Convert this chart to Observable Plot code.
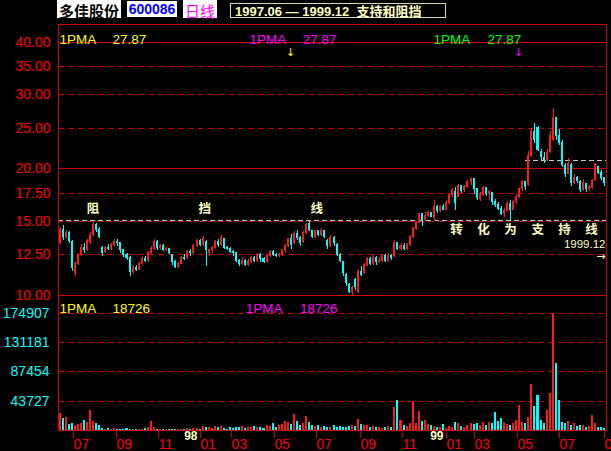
<!DOCTYPE html>
<html>
<head>
<meta charset="utf-8">
<script src="https://cdn.jsdelivr.net/npm/d3@7"></script>
<script src="https://cdn.jsdelivr.net/npm/@observablehq/plot@0.6"></script>
<style>
html,body{margin:0;padding:0;background:#000;}
body{width:611px;height:451px;overflow:hidden;position:relative;}
#price,#vol{position:absolute;left:0;}
#price{top:0;z-index:2;}
#vol{top:295px;z-index:1;}
.tb{position:absolute;top:0;height:18px;line-height:18px;text-align:center;background:#fff;white-space:nowrap;z-index:3;}
#range{position:absolute;left:230px;top:3px;width:210px;height:13px;border:1px solid #d8d8b8;color:#ffffc0;z-index:3;
 font:bold 13px "Liberation Sans",Arial,sans-serif;line-height:13px;white-space:nowrap;padding-left:4px;box-sizing:content-box;}
#range .cn{font-family:"Noto Sans CJK SC";font-size:13px;}
</style>
</head>
<body>
<div id="vol"></div>
<div id="price"></div>
<div class="tb" style="left:57px;width:64px;color:#000;font:bold 15px 'Noto Sans CJK SC';">多佳股份</div>
<div class="tb" style="left:127px;top:1px;height:16px;line-height:16px;width:50px;color:#0000ff;font:bold 14px 'Liberation Sans',Arial;">600086</div>
<div class="tb" style="left:183px;width:34px;color:#ff00ff;font:15px 'Noto Sans CJK SC';">日线</div>
<div id="range">1997.06 — 1999.12&nbsp;&nbsp;<span class="cn">支持和阻挡</span></div>
<script>
// ---- daily candles (sampled), prices in yuan ----
const opens = [
13.3,14.3,13.8,14.1,13.4,11.3,11.9,12.5,13.0,12.8,
13.4,13.9,14.7,14.3,13.0,12.7,13.0,12.9,13.2,13.4,
13.3,12.8,12.5,12.3,11.4,11.6,11.5,11.9,12.2,12.1,
12.6,12.9,13.4,13.0,13.1,12.8,12.9,12.5,12.0,11.7,
11.9,12.3,12.3,12.7,12.6,13.1,13.5,13.2,13.4,12.6,
12.8,13.0,13.4,13.2,13.6,13.0,12.9,12.7,12.6,12.1,
11.9,12.1,11.8,12.0,12.3,12.1,12.5,12.2,12.0,12.4,
12.7,12.5,12.4,12.5,12.8,13.1,13.6,13.3,14.0,13.7,
13.4,14.1,14.8,14.2,13.8,14.2,13.9,14.2,13.5,13.1,
13.7,13.2,12.5,12.0,11.2,10.6,10.2,10.9,10.2,11.4,
11.3,11.8,12.2,11.9,12.3,12.0,12.1,12.4,12.1,12.4,
12.4,13.3,12.9,13.1,12.9,13.2,13.8,14.4,14.9,15.6,
15.1,15.5,15.7,15.3,16.2,15.9,16.2,16.0,16.6,17.3,
17.6,17.2,18.2,17.8,18.1,18.6,18.9,17.9,17.0,17.3,
18.0,17.4,17.5,16.7,16.4,16.1,15.6,15.9,16.5,16.0,
16.7,17.2,17.9,18.6,18.3,21.5,24.5,25.0,22.0,21.2,
21.0,21.9,23.5,26.5,24.0,23.0,20.3,19.5,20.4,18.5,
19.0,18.6,17.8,18.4,17.9,18.0,18.8,20.2,19.6,19.0];
const closes = [
14.3,13.8,14.1,13.5,11.6,11.9,12.5,13.0,12.8,13.5,
13.9,14.7,14.3,13.8,12.6,13.0,12.9,13.2,13.4,13.3,
12.8,12.5,12.3,11.4,11.6,11.5,11.9,12.2,12.1,12.6,
12.9,13.4,13.0,13.1,12.8,12.9,12.6,12.0,11.7,11.9,
12.3,12.2,12.7,12.6,13.1,13.5,13.2,13.6,12.8,12.8,
13.0,13.4,13.2,13.7,13.0,12.9,12.7,12.6,12.1,11.9,
12.1,11.8,12.0,12.3,12.1,12.5,12.2,12.0,12.4,12.7,
12.5,12.4,12.5,12.8,13.1,13.6,13.2,14.0,13.7,13.3,
14.1,14.7,14.3,13.8,14.2,13.9,14.2,13.8,13.1,13.7,
13.3,12.5,12.1,11.3,10.7,10.2,10.4,10.5,11.4,11.2,
11.8,12.2,11.9,12.3,12.0,12.1,12.4,12.1,12.4,12.3,
13.3,12.9,13.1,12.9,13.2,13.8,14.4,14.9,15.6,15.0,
15.5,15.7,15.4,16.2,15.9,16.2,16.0,16.6,17.3,17.8,
16.6,18.2,17.7,18.1,18.6,18.9,17.9,17.1,17.3,18.0,
17.4,17.6,16.7,16.4,16.1,15.6,15.9,16.5,16.0,16.7,
17.2,17.9,18.6,18.1,21.5,24.5,23.4,22.2,21.3,21.0,
21.8,24.0,26.5,24.0,23.0,20.4,19.5,20.6,18.5,19.0,
18.7,17.8,18.5,17.9,18.1,18.7,20.5,19.6,19.0,18.5];
const highs = [
14.5,14.7,14.3,14.2,13.5,12.0,12.6,13.2,13.3,13.6,
14.1,14.9,14.8,14.5,13.1,13.1,13.2,13.3,13.6,13.6,
13.4,12.9,12.6,12.4,11.8,11.8,12.0,12.4,12.4,12.7,
13.1,13.6,13.5,13.2,13.2,13.0,12.9,12.5,12.1,12.0,
12.4,12.5,12.8,12.9,13.2,13.6,13.6,13.8,13.5,12.9,
13.1,13.5,13.6,13.9,13.6,13.1,13.0,12.8,12.6,12.2,
12.3,12.2,12.2,12.4,12.4,12.6,12.6,12.3,12.5,12.8,
12.8,12.6,12.6,12.9,13.2,13.7,14.0,14.2,14.3,13.8,
14.2,14.9,15.0,14.3,14.3,14.3,14.4,14.3,13.6,13.9,
13.8,13.3,12.6,12.0,11.3,10.7,10.5,11.0,11.5,11.7,
11.9,12.3,12.3,12.5,12.4,12.3,12.5,12.5,12.6,12.5,
13.5,13.4,13.3,13.3,13.3,13.9,14.5,15.0,15.7,15.7,
15.8,15.9,15.8,16.8,16.4,16.4,16.5,16.8,17.4,18.0,
18.1,18.4,18.3,18.3,18.8,19.0,19.0,18.0,17.6,18.2,
18.1,17.8,17.6,16.9,16.6,16.3,16.1,16.7,16.8,16.8,
17.4,18.0,18.8,18.7,22.0,25.0,25.6,25.3,22.2,21.9,
22.3,24.5,27.87,26.5,24.8,23.4,20.6,21.2,20.6,19.4,
19.2,18.8,18.9,18.5,18.3,18.9,20.6,20.3,19.8,19.1];
const lows = [
13.2,13.5,13.6,13.3,11.4,11.1,11.8,12.4,12.6,12.7,
13.2,13.8,14.1,13.7,12.4,12.6,12.8,12.8,13.1,13.1,
12.6,12.3,12.1,11.1,11.2,11.4,11.5,11.8,12.0,12.0,
12.5,12.8,12.8,12.8,12.7,12.7,12.5,11.8,11.6,11.6,
11.9,12.1,12.2,12.4,12.5,13.0,13.1,13.1,11.7,12.4,
12.6,12.9,13.0,13.1,12.9,12.8,12.6,12.4,12.0,11.7,
11.8,11.7,11.7,11.9,12.0,12.0,12.0,11.9,11.9,12.3,
12.4,12.3,12.3,12.4,12.6,13.0,12.9,13.2,13.5,13.1,
13.3,14.0,14.2,13.7,13.7,13.8,13.8,13.7,12.9,13.0,
13.1,12.4,12.0,11.1,10.5,10.1,10.0,10.3,10.1,11.1,
11.2,11.7,11.8,11.8,11.8,11.9,12.0,12.0,12.0,12.1,
12.3,12.8,12.8,12.8,12.8,13.1,13.7,14.3,14.8,14.6,
15.0,15.3,15.3,15.0,15.7,15.8,15.9,15.9,16.5,17.1,
15.9,17.1,17.5,17.6,18.0,18.3,17.4,16.8,16.7,17.2,
17.2,16.8,16.4,16.2,15.9,15.5,15.3,15.8,15.0,15.9,
16.5,17.0,17.7,17.8,18.2,21.3,23.0,22.0,21.0,20.6,
20.8,21.8,23.3,23.4,22.8,20.2,19.1,19.4,18.2,18.4,
18.5,17.6,17.7,17.6,17.7,17.9,18.7,19.4,18.8,18.2];
const volumes = [
25000,18000,20000,9000,11000,8000,9500,10000,15000,12000,
30000,14000,10000,8000,3000,2000,3000,1500,3000,2000,
1500,1000,3000,1500,1000,2000,1500,1000,3000,4000,
13500,5000,2000,1000,1500,1000,2000,1000,1500,1000,
1500,1000,3000,2000,2500,3000,2000,6000,5000,4000,
3000,5500,4000,6000,3000,2000,4000,3000,5000,4000,
6000,3000,4500,5000,6000,4000,5000,3000,8000,6000,
10000,5000,7000,9000,14000,12000,9000,24000,13000,8000,
11000,21000,12000,8000,6000,7000,5000,6000,5000,4000,
7000,4000,6000,5000,4000,6000,8000,6000,16500,9000,
7000,8000,5000,6000,4000,5000,3000,4000,6000,5000,
34000,45000,15000,8000,6000,10000,42000,10000,28600,13000,
15000,9000,8000,6000,5000,4000,9000,3000,6000,5000,
12000,11000,6000,5000,8000,11000,9000,10000,8000,12000,
7000,12000,10000,27000,13000,18000,12000,9000,8000,10000,
15000,37000,12000,10000,20000,69000,36000,52000,15000,10000,
30000,55000,174907,100000,45000,12000,10000,14000,8000,10000,
6000,7000,8000,5000,6000,22600,10000,5000,4000,3000];

// ---- axes / labels ----
const priceTicks = [10, 12.5, 15, 17.5, 20, 25, 30, 35, 40];
const priceDashed = [12.5, 15, 17.5, 25, 30, 35];
const priceSolid = [20, 40];
const priceTop = 44.14;
const volTicks = [43727, 87454, 131181, 174907];
const volTop = 201816;
const monthTickIdx = [4.3, 18.4, 32.2, 46.0, 56.2, 70.3, 84.1, 98.5, 112.3, 126.8, 136.0, 150.1, 163.9, 178.7];
const monthLabels = ["07","09","11","01","03","05","07","09","11","01","03","05","07","09"];
const yearMarks = [{idx: 46.0, label: "98"}, {idx: 126.8, label: "99"}];
const resistanceLevel = 15.1;
const supportSegment = [{from: 153.4, to: 180, level: 20.9}];
const priceHeader = [
  {idx: 0.3, t: "1PMA", c: "#ffff00"}, {idx: 17.7, t: "27.87", c: "#ffff00"},
  {idx: 62.7, t: "1PMA", c: "#ff00ff"}, {idx: 80.2, t: "27.87", c: "#ff00ff"},
  {idx: 123.2, t: "1PMA", c: "#00ff00"}, {idx: 140.9, t: "27.87", c: "#00ff00"}];
const volHeader = [
  {idx: 0.3, t: "1PMA", c: "#ffff00"}, {idx: 17.7, t: "18726", c: "#ffff00"},
  {idx: 61.5, t: "1PMA", c: "#ff00ff"}, {idx: 79.3, t: "18726", c: "#ff00ff"}];
const markerArrows = [{idx: 76.2, c: "#ffff00"}, {idx: 151.1, c: "#ff00ff"}];
const resistText = [{idx: 11.3, p: 16.1, t: "阻"}, {idx: 48.0, p: 16.1, t: "挡"}, {idx: 84.8, p: 16.1, t: "线"}];
const supportText = [
  {idx: 130.7, p: 14.3, t: "转"}, {idx: 139.6, p: 14.3, t: "化"}, {idx: 148.5, p: 14.3, t: "为"},
  {idx: 157.4, p: 14.3, t: "支"}, {idx: 166.2, p: 14.3, t: "持"}, {idx: 175.1, p: 14.3, t: "线"}];
const dateNote = [{idx: 180, p: 13.27, t: "1999.12"}];
const arrowNote = [{idx: 180, p: 12.36, t: "→"}];

// ---- styling ----
const UP = "#ff1a1a", DN = "#00ffff";
const BORDER = "#d00000", GRID = "#c00000", GRAY = "#c8c8c8", NOTE = "#ffffc0";
const FONT = "'Liberation Sans', Arial, sans-serif";
const CJK = "'Noto Sans CJK SC', sans-serif";

const N = closes.length;
const bars = closes.map((c, i) => ({i, o: opens[i], h: highs[i], l: lows[i], c, v: volumes[i]}));
const ups = bars.filter(d => d.c >= d.o);
const dns = bars.filter(d => d.c < d.o);

function candles(data, color) {
  return [
    Plot.ruleX(data, {x: d => d.i + 0.5, y1: "l", y2: "h", stroke: color, shapeRendering: "crispEdges"}),
    Plot.rect(data, {x1: d => d.i + 0.17, x2: d => d.i + 0.83, y1: "o", y2: "c", fill: color,
      insetTop: -0.5, insetBottom: -0.5, shapeRendering: "crispEdges"})
  ];
}
function volBars(data, color) {
  return Plot.rect(data, {x1: d => d.i + 0.17, x2: d => d.i + 0.83, y1: 0, y2: "v", fill: color, shapeRendering: "crispEdges"});
}

const common = {width: 611, marginLeft: 58, marginRight: 5,
  style: {background: "transparent", fontFamily: FONT, fontSize: "14px", color: "#ff0000", overflow: "visible"}};

const price = Plot.plot({
  ...common, height: 296, marginTop: 24, marginBottom: 1,
  x: {domain: [0, N], axis: null},
  y: {type: "log", domain: [10, priceTop]},
  color: {type: "identity"},
  marks: [
    Plot.ruleY(priceDashed, {stroke: GRID, strokeDasharray: "6,4", shapeRendering: "crispEdges"}),
    Plot.ruleY(priceSolid, {stroke: BORDER, shapeRendering: "crispEdges"}),
    Plot.ruleY([resistanceLevel], {stroke: GRAY, strokeDasharray: "5,3", shapeRendering: "crispEdges"}),
    Plot.ruleY(supportSegment, {y: "level", x1: "from", x2: "to", stroke: GRAY, strokeDasharray: "5,3", shapeRendering: "crispEdges"}),
    ...candles(ups, UP),
    ...candles(dns, DN),
    Plot.axisY(priceTicks, {anchor: "left", label: null, tickSize: 0, tickPadding: 8, tickFormat: d => d.toFixed(2), fill: "#ff0000", fontSize: 14}),
    Plot.frame({stroke: BORDER, shapeRendering: "crispEdges"}),
    Plot.text(priceHeader, {x: "idx", text: "t", fill: "c", frameAnchor: "top", dy: 9.5, textAnchor: "start", fontSize: 13.5}),
    Plot.text(markerArrows, {x: "idx", text: () => "↓", fill: "c", frameAnchor: "top", dy: 23.5, fontSize: 11, fontFamily: "DejaVu Sans"}),
    Plot.text(resistText, {x: "idx", y: "p", text: "t", fill: NOTE, fontSize: 12.5, fontWeight: "bold", fontFamily: CJK}),
    Plot.text(supportText, {x: "idx", y: "p", text: "t", fill: NOTE, fontSize: 12.5, fontWeight: "bold", fontFamily: CJK}),
    Plot.text(dateNote, {x: "idx", y: "p", text: "t", fill: NOTE, fontSize: 11.5, textAnchor: "end", dx: -1}),
    Plot.text(arrowNote, {x: "idx", y: "p", text: "t", fill: NOTE, fontSize: 11, textAnchor: "end", dx: -1, fontFamily: "DejaVu Sans"})
  ]
});
document.getElementById("price").append(price);

const monthMap = new Map(monthTickIdx.map((d, i) => [d, monthLabels[i]]));
const vol = Plot.plot({
  ...common, height: 156, marginTop: 0, marginBottom: 21,
  x: {domain: [0, N]},
  y: {domain: [0, volTop]},
  color: {type: "identity"},
  marks: [
    Plot.ruleY(volTicks, {stroke: GRID, strokeDasharray: "6,4", shapeRendering: "crispEdges"}),
    volBars(ups, UP),
    volBars(dns, DN),
    Plot.axisY(volTicks, {anchor: "left", label: null, tickSize: 0, tickPadding: 9, tickFormat: d => String(d), fill: "#00ffff", fontSize: 14}),
    Plot.axisX(monthTickIdx, {anchor: "bottom", label: null, tickSize: 8, tickPadding: 1, tickFormat: d => monthMap.get(d),
      textAnchor: "start", dx: 2, stroke: BORDER, fill: "#ff0000", fontSize: 14}),
    Plot.text(yearMarks, {x: "idx", text: "label", frameAnchor: "bottom", dy: 9, dx: -1, textAnchor: "end",
      fill: NOTE, fontSize: 12, fontWeight: "bold"}),
    Plot.frame({stroke: BORDER, shapeRendering: "crispEdges"}),
    Plot.text(volHeader, {x: "idx", text: "t", fill: "c", frameAnchor: "top", dy: 8, textAnchor: "start", fontSize: 13.5})
  ]
});
document.getElementById("vol").append(vol);
</script>
</body>
</html>
